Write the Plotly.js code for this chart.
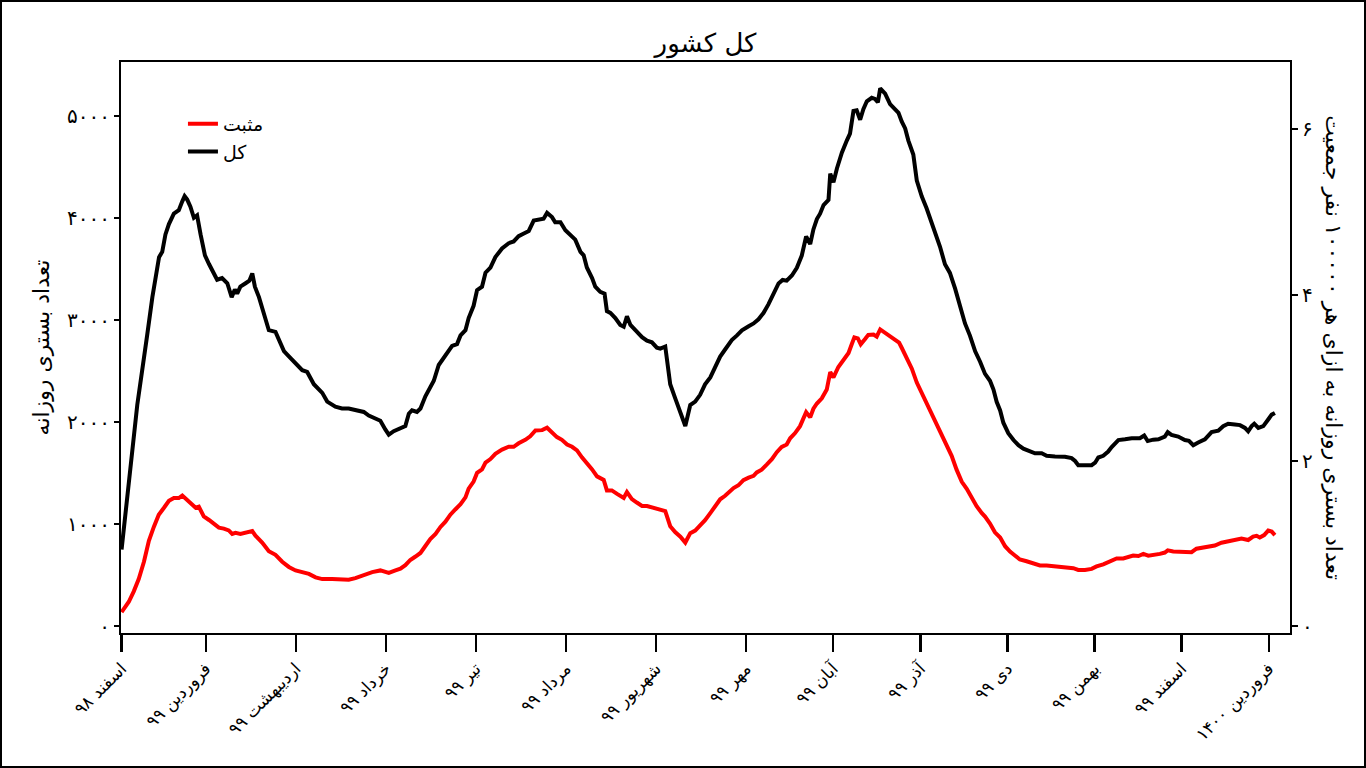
<!DOCTYPE html>
<html>
<head>
<meta charset="utf-8">
<script src="https://cdn.plot.ly/plotly-3.0.1.min.js"></script>
<style>
  html, body { margin: 0; padding: 0; background: #fff; }
  #wrap { position: relative; width: 1366px; height: 768px; }
  #chart { width: 1366px; height: 768px; }
  #frame { position: absolute; left: 0; top: 0; width: 1366px; height: 768px; box-sizing: border-box; border: 2px solid #000; pointer-events: none; }
</style>
</head>
<body>
<div id="wrap"><div id="chart"></div><div id="frame"></div></div>
<script>
// Days counted from 1 Esfand 1398
const monthTickDays = [0, 29, 60, 91, 122, 153, 184, 215, 245, 275, 305, 335, 365, 395];
const monthLabels = ['اسفند ۹۸', 'فروردین ۹۹', 'اردیبهشت ۹۹', 'خرداد ۹۹', 'تیر ۹۹', 'مرداد ۹۹', 'شهریور ۹۹', 'مهر ۹۹', 'آبان ۹۹', 'آذر ۹۹', 'دی ۹۹', 'بهمن ۹۹', 'اسفند ۹۹', 'فروردین ۱۴۰۰'];

const leftTickVals = [0, 1000, 2000, 3000, 4000, 5000];
const leftTickText = ['۰', '۱۰۰۰', '۲۰۰۰', '۳۰۰۰', '۴۰۰۰', '۵۰۰۰'];
const rightTickVals = [0, 2, 4, 6];
const rightTickText = ['۰', '۲', '۴', '۶'];

// population / 100000
const perHundredThousandDivisor = 812;

// Series "کل" (total), black
const totalDays = [0, 3.7, 5.4, 8.8, 10.6, 12.9, 14.0, 15.1, 16.3, 18.0, 19.7, 20.9, 21.7, 22.6, 23.7, 24.9, 26.0, 27.2, 28.7, 30.1, 31.8, 32.9, 34.6, 36.4, 37.9, 39.0, 39.8, 40.9, 42.7, 44.0, 45.0, 45.9, 47.3, 49.0, 50.7, 53.0, 54.7, 55.9, 57.6, 60.5, 62.2, 63.9, 66.2, 69.1, 70.8, 73.6, 75.9, 78.2, 80.5, 83.4, 85.1, 87.4, 89.1, 90.8, 92.0, 93.7, 96.0,
  97.7, 98.9, 100.0, 101.7, 102.9, 104.6, 106.3, 107.5, 109.2, 110.9, 112.6, 113.8, 115.5, 116.7, 118.4, 119.5, 121.2, 122.4, 124.1, 125.3, 127.0, 128.7, 131.0, 133.3, 135.0, 136.7, 138.5, 140.2, 141.9, 143.6, 145.3, 146.5, 148.2, 149.3, 151.1, 152.8, 154.5, 156.2, 158.0, 159.1, 160.2, 162.0, 163.1, 164.8, 166.3, 167.1, 168.3, 170.0, 171.7, 172.9, 174.0, 175.2, 176.9, 179.2, 180.9, 182.6, 184.3, 185.5, 187.2, 188.9, 190.6, 192.4, 194.1, 195.8,
  197.5, 199.2, 200.9, 202.7, 204.4, 206.1, 207.8, 210.1, 211.8, 213.6, 215.9, 217.6, 219.3, 221.0, 222.7, 224.5, 226.2, 227.6, 229.0, 230.8, 232.5, 234.2, 235.7, 237.1, 238.2, 239.4, 240.5, 241.7, 243.4, 244.0, 245.1, 246.3, 248.0, 249.7, 250.8, 252.0, 253.1, 254.3, 255.4, 256.6, 258.3, 259.4, 260.4, 261.2, 262.9, 264.6, 266.3, 267.5, 268.6, 269.8, 270.9, 272.6, 273.8, 275.5, 277.2, 278.9, 280.1, 281.8, 283.5, 285.2, 287.0, 288.7, 290.4, 292.1, 293.9, 295.6,
  297.3, 299.0, 300.2, 301.3, 302.5, 303.6, 305.3, 307.1, 308.8, 310.5, 312.8, 314.5, 316.8, 318.5, 321.4, 324.8, 327.1, 328.3, 329.4, 331.7, 334.0, 335.2, 336.3, 338.0, 339.7, 340.9, 342.0, 343.2, 345.5, 347.8, 350.6, 352.1, 353.3, 355.2, 357.0, 358.1, 359.2, 360.2, 361.5, 363.8, 366.1, 367.5, 369.0, 370.7, 373.0, 375.3, 377.6, 379.3, 381.0, 383.3, 385.1, 386.8, 387.9, 389.1, 390.0, 391.4, 393.1, 394.6, 396.0, 397.1];
const totalValues = [754, 1760, 2169, 2851, 3226, 3618, 3669, 3840, 3942, 4044, 4078, 4164, 4215, 4181, 4112, 4003, 4027, 3840, 3635, 3550, 3465, 3396, 3413, 3362, 3226, 3301, 3260, 3328, 3362, 3386, 3458, 3328, 3226, 3072, 2902, 2885, 2783, 2697, 2646, 2561, 2510, 2493, 2373, 2288, 2203, 2152, 2135, 2135, 2118, 2101, 2066, 2032, 2015, 1930, 1879, 1913, 1940,
  1964, 2084, 2118, 2101, 2135, 2254, 2356, 2407, 2561, 2629, 2697, 2748, 2766, 2851, 2902, 3021, 3141, 3294, 3328, 3465, 3516, 3618, 3703, 3754, 3771, 3823, 3850, 3874, 3976, 3986, 3993, 4051, 4010, 3959, 3959, 3881, 3840, 3789, 3669, 3635, 3516, 3413, 3328, 3277, 3260, 3089, 3072, 3021, 2953, 2936, 3038, 2953, 2902, 2834, 2800, 2783, 2731, 2721, 2742, 2373, 2237, 2101, 1964, 2169,
  2202, 2269, 2372, 2440, 2542, 2644, 2713, 2805, 2849, 2900, 2941, 2968, 3009, 3070, 3155, 3258, 3360, 3394, 3387, 3438, 3513, 3633, 3820, 3745, 3889, 3991, 4043, 4128, 4179, 4435, 4350, 4486, 4640, 4759, 4827, 5049, 5055, 4963, 5066, 5144, 5178, 5168, 5134, 5270, 5219, 5117, 5066, 5032, 4946, 4878, 4759, 4623, 4367, 4213, 4094, 3957, 3838, 3719, 3548, 3463, 3309, 3139, 2968, 2849, 2695, 2593,
  2474, 2406, 2320, 2201, 2116, 1996, 1894, 1826, 1775, 1741, 1713, 1696, 1696, 1672, 1666, 1662, 1649, 1621, 1580, 1577, 1580, 1604, 1655, 1672, 1713, 1758, 1792, 1826, 1833, 1843, 1843, 1870, 1816, 1830, 1833, 1850, 1860, 1904, 1877, 1860, 1826, 1819, 1775, 1802, 1833, 1904, 1918, 1962, 1986, 1979, 1972, 1945, 1911, 1962, 1986, 1945, 1962, 2020, 2075, 2092];

// Series "مثبت" (positive), red
const positiveDays = [0, 2.5, 4.2, 5.9, 7.7, 9.4, 11.1, 12.8, 14.6, 16.3, 18.0, 19.7, 20.9, 22.0, 23.7, 25.5, 26.6, 28.3, 30.1, 31.8, 33.5, 35.2, 36.9, 38.1, 39.2, 40.9, 43.2, 45.0, 46.1, 48.4, 50.7, 53.0, 55.3, 57.6, 59.9, 62.2, 64.5, 66.8, 69.1, 72.5, 75.9, 78.2, 80.5, 83.4, 86.3, 89.1, 92.0, 94.3, 96.0,
  97.7, 99.4, 101.2, 102.9, 104.6, 106.3, 108.1, 109.8, 111.5, 113.2, 114.9, 116.7, 118.4, 119.5, 121.2, 122.4, 124.1, 125.3, 127.0, 128.7, 131.0, 133.3, 135.0, 136.7, 139.0, 140.7, 142.5, 144.8, 146.5, 148.2, 149.9, 151.6, 153.4, 155.1, 156.8, 158.5, 160.2, 162.0, 163.7, 166.0, 167.1, 168.8, 170.6, 172.9, 174.0, 175.7, 177.4, 179.2, 180.9, 183.2, 185.5, 187.2, 188.9, 190.6, 192.4, 194.1, 195.8,
  197.5, 199.2, 200.9, 202.7, 204.4, 206.1, 207.8, 209.0, 210.7, 212.4, 214.1, 215.9, 217.6, 218.7, 220.4, 222.2, 223.9, 225.6, 227.3, 229.0, 230.2, 231.9, 233.6, 235.7, 237.1, 238.2, 239.4, 241.1, 242.8, 244.0, 245.1, 246.8, 248.5, 250.3, 251.4, 252.3, 253.5, 254.5, 256.0, 257.1, 258.9, 260.0, 261.2, 262.9, 264.6, 266.3, 267.7, 268.6, 270.3, 272.1, 273.8, 275.5, 277.8, 279.5, 281.2, 283.0, 284.1, 285.8, 287.5, 289.3, 291.0, 292.7, 294.4, 296.2,
  297.3, 299.0, 300.7, 302.5, 304.2, 305.9, 307.6, 309.3, 311.6, 313.9, 316.2, 318.5, 320.8, 323.7, 326.0, 327.7, 329.4, 331.7, 334.0, 335.7, 338.0, 340.3, 342.6, 344.9, 346.6, 348.3, 350.1, 351.8, 353.5, 355.8, 357.5, 359.2, 360.2, 362.1, 364.4, 366.7, 368.4, 370.1, 372.4, 374.7, 376.4, 378.7, 381.0, 383.3, 385.6, 387.9, 389.6, 390.8, 391.9, 393.4, 394.8, 396.0, 397.1];
const positiveValues = [140, 242, 344, 464, 634, 839, 975, 1095, 1163, 1231, 1258, 1258, 1282, 1255, 1214, 1163, 1173, 1078, 1043, 1009, 968, 958, 941, 907, 917, 907, 917, 934, 890, 822, 737, 702, 634, 583, 549, 532, 515, 481, 464, 464, 464, 457, 474, 505, 532, 549, 525, 549, 566,
  600, 651, 685, 720, 788, 856, 907, 975, 1026, 1095, 1146, 1197, 1265, 1350, 1419, 1504, 1538, 1606, 1640, 1691, 1732, 1760, 1760, 1794, 1828, 1862, 1920, 1923, 1947, 1896, 1855, 1828, 1783, 1760, 1725, 1657, 1606, 1538, 1470, 1436, 1333, 1333, 1299, 1258, 1316, 1248, 1214, 1180, 1180, 1163, 1139, 1129, 982, 924, 880, 822, 914,
  939, 990, 1041, 1110, 1178, 1246, 1280, 1314, 1355, 1383, 1434, 1458, 1475, 1509, 1536, 1587, 1638, 1707, 1758, 1782, 1843, 1894, 1962, 2099, 2048, 2133, 2184, 2235, 2320, 2491, 2440, 2542, 2610, 2679, 2764, 2832, 2822, 2764, 2815, 2856, 2859, 2839, 2910, 2876, 2832, 2798, 2781, 2730, 2627, 2525, 2389, 2287, 2167, 2048, 1962, 1860, 1775, 1672, 1536, 1417, 1348, 1263, 1178, 1110,
  1076, 1008, 922, 871, 786, 734, 700, 656, 639, 622, 598, 598, 591, 588, 581, 571, 554, 554, 564, 588, 609, 643, 666, 666, 683, 694, 690, 711, 694, 700, 711, 724, 745, 734, 734, 728, 728, 762, 776, 786, 793, 820, 837, 854, 861, 847, 881, 888, 871, 895, 939, 929, 895];

const leftRange = [-64, 5529];
const FONT = 'DejaVu Sans, sans-serif';

const traces = [
  {
    x: positiveDays, y: positiveValues, type: 'scatter', mode: 'lines', name: 'مثبت',
    line: {color: '#ff0000', width: 4}, legendgroup: 'a', xaxis: 'x', yaxis: 'y'
  },
  {
    x: totalDays, y: totalValues, type: 'scatter', mode: 'lines', name: 'کل',
    line: {color: '#000000', width: 4}, legendgroup: 'b', xaxis: 'x', yaxis: 'y'
  },
  {
    x: totalDays, y: totalValues.map(v => v / perHundredThousandDivisor), type: 'scatter', mode: 'lines',
    line: {color: 'rgba(0,0,0,0)', width: 0}, showlegend: false, hoverinfo: 'skip', xaxis: 'x', yaxis: 'y2'
  }
];

const layout = {
  width: 1366, height: 768,
  margin: {l: 121, r: 76, t: 62, b: 135},
  paper_bgcolor: '#ffffff', plot_bgcolor: '#ffffff',
  font: {family: FONT, color: '#000', size: 16},
  title: {text: 'کل کشور', font: {family: FONT, size: 26, color: '#000'}, x: 0.5165, xanchor: 'center', y: 0.944, yanchor: 'middle', yref: 'container'},
  showlegend: true,
  legend: {x: 0.053, y: 0.925, xanchor: 'left', yanchor: 'top', bgcolor: 'rgba(0,0,0,0)', font: {family: FONT, size: 19, color: '#000'}, tracegroupgap: 0},
  xaxis: {
    range: [-0.2, 402.3], showgrid: false, zeroline: false,
    showline: true, linecolor: '#000', linewidth: 2, mirror: true,
    tickmode: 'array', tickvals: monthTickDays, ticktext: monthLabels,
    ticks: 'outside', ticklen: 17, tickwidth: 2.5, tickcolor: '#000',
    tickangle: -45, tickfont: {family: FONT, size: 17, color: '#000'}
  },
  yaxis: {
    range: leftRange, showgrid: false, zeroline: false,
    showline: true, linecolor: '#000', linewidth: 2, mirror: true,
    tickmode: 'array', tickvals: leftTickVals, ticktext: leftTickText,
    ticks: 'outside', ticklen: 5, tickwidth: 2, tickcolor: '#000',
    tickfont: {family: FONT, size: 20, color: '#000'},
    title: {text: 'تعداد بستری روزانه', font: {family: FONT, size: 22, color: '#000'}, standoff: 11}
  },
  yaxis2: {
    overlaying: 'y', side: 'right',
    range: [leftRange[0] / perHundredThousandDivisor, leftRange[1] / perHundredThousandDivisor],
    showgrid: false, zeroline: false, showline: true, linecolor: '#000', linewidth: 2,
    tickmode: 'array', tickvals: rightTickVals, ticktext: rightTickText,
    ticks: 'outside', ticklen: 6, tickwidth: 2, tickcolor: '#000',
    tickfont: {family: FONT, size: 20, color: '#000'}
  },
  annotations: [
    {text: 'تعداد بستری روزانه به ازای هر ۱۰۰۰۰۰ نفر جمعیت', xref: 'paper', yref: 'paper', x: 1.037, y: 0.5, xanchor: 'center', yanchor: 'middle', textangle: 90, showarrow: false, font: {family: FONT, size: 22, color: '#000'}}
  ]
};

Plotly.newPlot('chart', traces, layout, {displayModeBar: false, staticPlot: true});
</script>
</body>
</html>
